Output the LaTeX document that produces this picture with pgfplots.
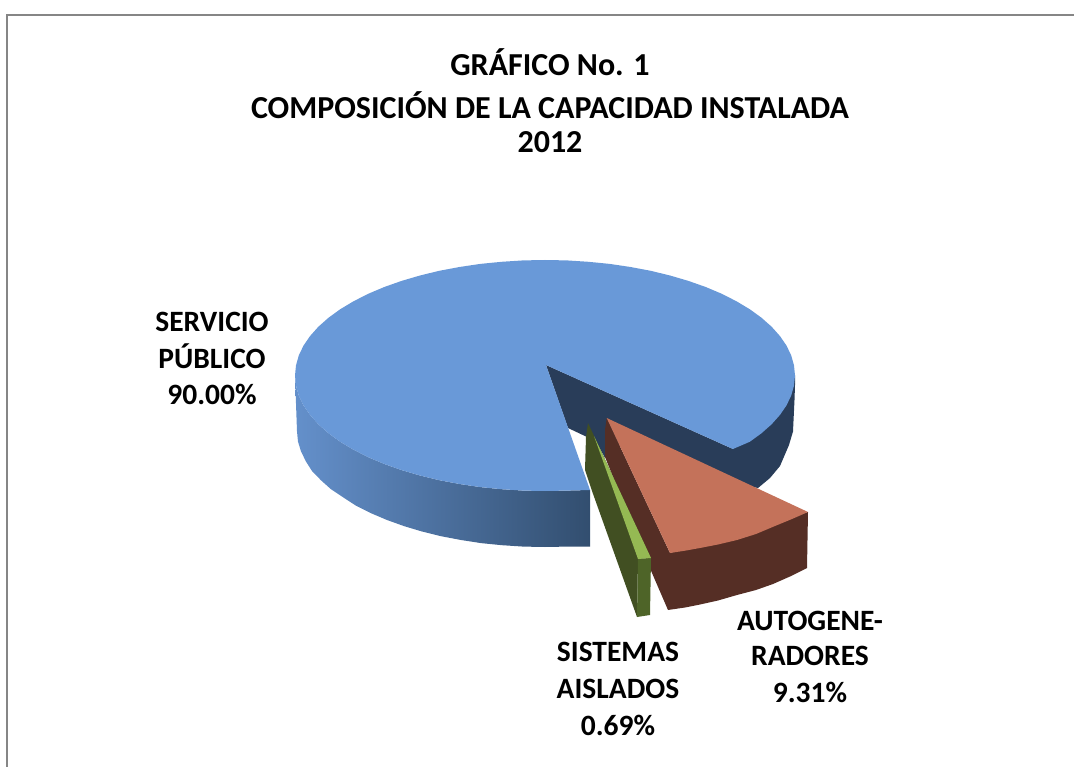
\documentclass[border=0pt]{standalone}
\usepackage{fontspec}
\setmainfont{Carlito}
\usepackage{pgfplots}
\pgfplotsset{compat=1.18}

\definecolor{bluetop}{HTML}{6999D8}
\definecolor{bluedark}{HTML}{293D59}
\definecolor{wallleft}{HTML}{6490CB}
\definecolor{wallmid}{HTML}{4F75A3}
\definecolor{wallright}{HTML}{324E6F}
\definecolor{redtop}{HTML}{C4725A}
\definecolor{reddark}{HTML}{552E25}
\definecolor{greentop}{HTML}{95B953}
\definecolor{greendark}{HTML}{414F22}
\definecolor{greenfront}{HTML}{4E6428}
\definecolor{frame}{HTML}{868686}

\newcommand{\titlefont}{\fontsize{32}{32}\selectfont\bfseries}
\newcommand{\labelfont}{\fontsize{29.5}{29.5}\selectfont\bfseries}

\begin{document}
\begin{tikzpicture}
\path[use as bounding box] (0,0) rectangle (1074pt,767pt);
\begin{axis}[
    at={(0,0)}, anchor=south west,
    scale only axis,
    width=1074pt, height=767pt,
    xmin=0, xmax=1074, ymin=0, ymax=767,
    y dir=reverse,
    hide axis,
    clip=false,
    every axis plot/.append style={no markers, draw=none, forget plot},
]
% chart frame, only top and left show
\addplot[draw=frame, line width=1.6pt] coordinates {(1074,15) (7,15) (7,767)};

% inner cut and right wall of the big slice
\addplot[fill=bluedark] coordinates {
 (546,365) (733,449) (795,375.5) (795,385) (794.5,400) (793,431.5) (789,445) (780,466)
 (770,478) (758,488) (660,470) (610,440) (605,458) (598,445) (587,437) (568,428)};

% left wall of the big slice
\addplot[left color=wallleft, middle color=wallmid, right color=wallright] coordinates {
 (295,375.5) (296,385.6) (298.8,395.6) (303.5,405.4) (310.1,415) (318.4,424.3) (328.5,433.25)
 (340.2,441.75) (353.5,449.7) (368.2,457.2) (384.3,464) (401.6,470.1) (420,475.5) (439.3,480.2)
 (459.5,484) (480.3,487.1) (501.6,489.2) (523.2,490.6) (545,491) (566.8,490.6) (590,490)
 (590,546.5) (567,546.6) (545,547) (523.4,546.6) (502,545.2) (481,543.1) (461,540) (441,536.2)
 (422,531.5) (404,526.1) (387,520) (371,513.2) (356,505.7) (343,497.25) (331,489.25) (321,480.3)
 (312,471) (306,461.6) (301,451.4) (298,441.6) (297,431.5)};

% top of the big slice
\addplot[fill=bluetop] coordinates {
 (546,365) (733,449) (749.8,441.75) (761.5,433.25) (771.6,424.3) (779.9,415) (786.5,405.4)
 (791.2,395.6) (794,385.6) (795,375.5) (794,365.4) (791.2,355.4) (786.5,345.6) (779.9,336)
 (771.6,326.7) (761.5,317.75) (749.8,309.25) (736.5,301.3) (721.8,293.8) (705.7,287) (688.4,280.9)
 (670,275.5) (650.7,270.8) (630.5,267) (609.7,263.9) (588.4,261.8) (566.8,260.4) (545,260)
 (523.2,260.4) (501.6,261.8) (480.3,263.9) (459.5,267) (439.3,270.8) (420,275.5) (401.6,280.9)
 (384.3,287) (368.2,293.8) (353.5,301.3) (340.2,309.25) (328.5,317.75) (318.4,326.7) (310.1,336)
 (303.5,345.6) (298.8,355.4) (296,365.4) (295,375.5) (296,385.6) (298.8,395.6) (303.5,405.4)
 (310.1,415) (318.4,424.3) (328.5,433.25) (340.2,441.75) (353.5,449.7) (368.2,457.2) (384.3,464)
 (401.6,470.1) (420,475.5) (439.3,480.2) (459.5,484) (480.3,487.1) (501.6,489.2) (523.2,490.6)
 (545,491) (566.8,490.6) (590,490)};

% red slice: walls then top
\addplot[fill=reddark] coordinates {
 (606.7,418) (605,430) (605,457) (652,573) (668,610) (685,607.5) (700,604.5) (718,600.5) (737,595)
 (756,590) (773,584) (790,576.5) (807,568) (808,512) (670,553)};
\addplot[fill=redtop] coordinates {
 (606.7,418) (808,512) (792,519) (775,526) (756,534) (737,540) (718,544.5) (700,548) (685,550.7) (670,553)};

% green slice: walls then top
\addplot[fill=greendark] coordinates {
 (588,423) (586,437) (585,470) (592,491) (637,617) (638,559) (651,558)};
\addplot[fill=greenfront] coordinates {(638,559) (651,558) (650,615) (637,617)};
\addplot[fill=greentop] coordinates {(594,436) (651,558) (638,559)};

% title
\node[font=\titlefont, anchor=base] at (axis cs:550,76) {GRÁFICO No. 1};
\node[font=\titlefont, anchor=base] at (axis cs:550,119) {COMPOSICIÓN DE LA CAPACIDAD INSTALADA};
\node[font=\titlefont, anchor=base] at (axis cs:550,153) {2012};

% slice labels
\node[font=\labelfont, anchor=base] at (axis cs:212,332) {SERVICIO};
\node[font=\labelfont, anchor=base] at (axis cs:212,368) {PÚBLICO};
\node[font=\labelfont, anchor=base] at (axis cs:212,404) {90.00\%};
\node[font=\labelfont, anchor=base] at (axis cs:618,661) {SISTEMAS};
\node[font=\labelfont, anchor=base] at (axis cs:618,698) {AISLADOS};
\node[font=\labelfont, anchor=base] at (axis cs:618,735) {0.69\%};
\node[font=\labelfont, anchor=base] at (axis cs:810,630) {AUTOGENE-};
\node[font=\labelfont, anchor=base] at (axis cs:810,665) {RADORES};
\node[font=\labelfont, anchor=base] at (axis cs:810,702) {9.31\%};
\end{axis}
\end{tikzpicture}
\end{document}
